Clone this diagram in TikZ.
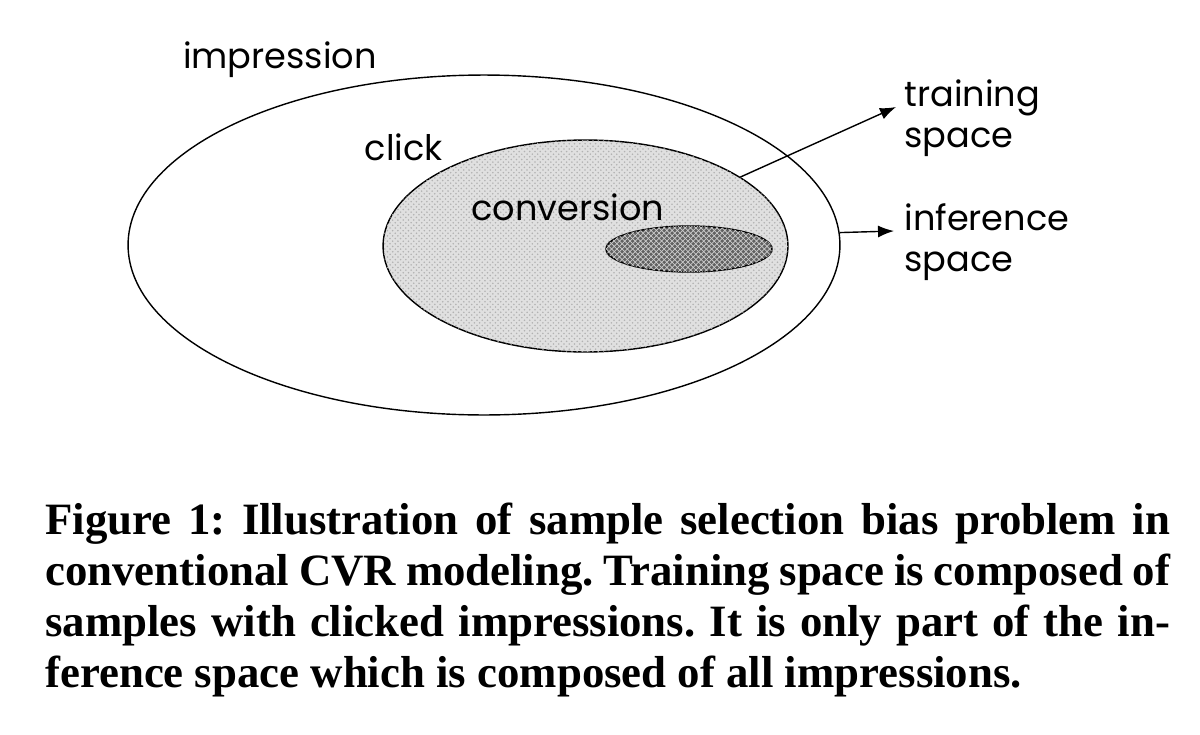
\documentclass[tikz,border=0pt]{standalone}
\usepackage{fontspec}
\setmainfont{Liberation Serif}
\newfontfamily\labelfont{Poppins}
\usepackage{tikz}
\usetikzlibrary{shapes.geometric}
\usetikzlibrary{patterns}
\usetikzlibrary{positioning}
\usetikzlibrary{arrows.meta}
\tikzset{
  Menge/.style={draw,thick,ellipse,inner sep=0pt}, % für Mengen
  Pfeil/.style={thick,-{Latex[length=3.2mm,width=2.4mm]}}, % für Pfeile
  Text/.style={font=\labelfont\fontsize{20}{23}\selectfont,inner sep=0pt}
}
\begin{document}
\begin{tikzpicture}[x=0.02cm,y=-0.02cm]
\useasboundingbox (0,0) rectangle (1200,734);

%Mengen
\node[Menge, minimum width=14.24cm, minimum height=6.8cm] (Imp) at (484,245) {};
\node[Menge, fill=black!12, postaction={pattern=crosshatch dots, pattern color=black!30},
  minimum width=8.1cm, minimum height=4.24cm] (Klick) at (585.5,246) {};
\node[Menge, fill=black!62, postaction={pattern=crosshatch, pattern color=black!20},
  minimum width=3.32cm, minimum height=0.92cm] (Konv) at (689,249) {};

%Beschriftungen
\node[Text] (LImp) at (280,60) {impression};
\node[Text] (LKlick) at (404,147) {click};
\node[Text] (LKonv) at (568,207) {conversion};
\node[Text, anchor=west, align=left] (LTrain) at (904,118) {training\\space};
\node[Text, anchor=west, align=left] (LInf) at (904,242) {inference\\space};

%Pfeile
\coordinate (ETrain) at (896,107);
\coordinate (EInf) at (894,231);
\draw[Pfeil] (Klick.24) -- (ETrain);
\draw[Pfeil] (Imp.2) -- (EInf);

%Bildunterschrift
\node[anchor=north west, inner sep=0pt, text width=22.5cm, align=justify,
  font=\bfseries\fontsize{25.5}{29}\selectfont\frenchspacing] (Cap) at (45,503)
  {Figure 1: Illustration of sample selection bias problem in\linebreak
   conventional CVR modeling. Training space is composed of\linebreak
   samples with clicked impressions. It is only part of the in-\linebreak
   ference space which is composed of all impressions.};
\end{tikzpicture}
\end{document}
